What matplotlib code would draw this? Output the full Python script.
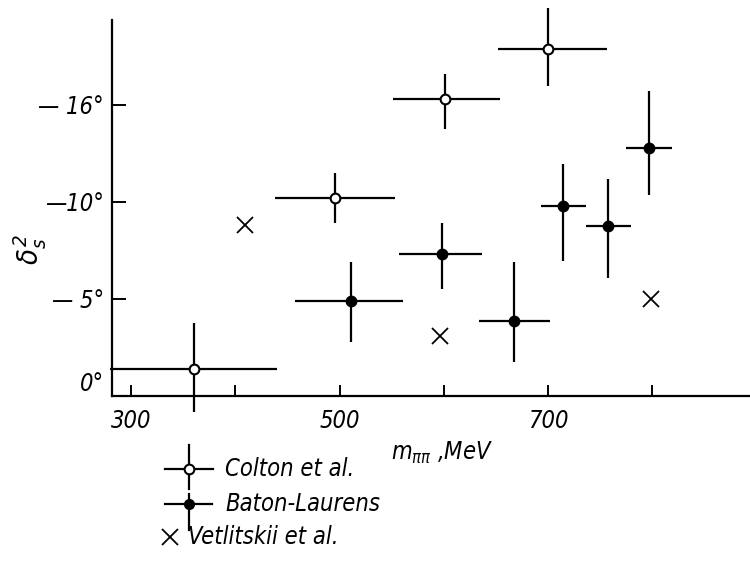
import matplotlib
matplotlib.use('Agg')
import matplotlib.pyplot as plt

# --- Data (delta_s^2 in degrees, m_pipi in MeV) ---
colton_x = [360, 496, 601, 700]
colton_y = [1.4, 10.2, 15.3, 17.9]
colton_xerr_lo = [80, 58, 50, 48]
colton_xerr_hi = [80, 57, 53, 56]
colton_yerr_lo = [2.2, 1.3, 1.55, 1.95]
colton_yerr_hi = [2.35, 1.3, 1.3, 2.1]

baton_x = [511, 598, 667, 714, 757, 797]
baton_y = [4.9, 7.3, 3.85, 9.8, 8.75, 12.8]
baton_xerr_lo = [54, 41, 33, 21, 21, 22]
baton_xerr_hi = [50, 39, 35, 22, 22, 22]
baton_yerr_lo = [2.1, 1.8, 2.1, 2.85, 2.65, 2.45]
baton_yerr_hi = [2.0, 1.6, 3.05, 2.15, 2.45, 2.9]

vet_x = [409, 596, 799]
vet_y = [8.8, 3.1, 5.0]

x_ticks = [300, 400, 500, 600, 700, 800]
x_tick_labels = ['300', '', '500', '', '700', '']
y_ticks = [0, 5, 10, 15]
y_tick_labels = ['0°', '— 5°', '—10°', '— 16°']

legend_labels = ['Colton et al.', 'Baton-Laurens', 'Vetlitskii et al.']

plt.rcParams['font.family'] = ['DejaVu Sans']
plt.rcParams['font.style'] = 'italic'
plt.rcParams['font.stretch'] = 'condensed'
plt.rcParams['mathtext.fontset'] = 'custom'
plt.rcParams['mathtext.it'] = 'DejaVu Sans:italic'
plt.rcParams['mathtext.rm'] = 'DejaVu Sans:italic'

fig = plt.figure(figsize=(7.5, 5.69), dpi=100)
ax = fig.add_axes([112 / 750, 1 - 396 / 569, 638 / 750, 396 / 569])

ebar_style = dict(fmt='o', color='black', elinewidth=1.6, capsize=0,
                  markersize=7, markeredgewidth=1.5, markeredgecolor='black')

c = ax.errorbar(colton_x, colton_y,
                xerr=[colton_xerr_lo, colton_xerr_hi],
                yerr=[colton_yerr_lo, colton_yerr_hi],
                markerfacecolor='white', **ebar_style)
b = ax.errorbar(baton_x, baton_y,
                xerr=[baton_xerr_lo, baton_xerr_hi],
                yerr=[baton_yerr_lo, baton_yerr_hi],
                markerfacecolor='black', **ebar_style)
for cont in (c, b):
    for art in cont.lines[2]:
        art.set_clip_on(False)
    cont.lines[0].set_clip_on(False)
    cont.lines[0].set_zorder(5)

ax.plot(vet_x, vet_y, 'x', color='black', markersize=12, markeredgewidth=1.3,
        clip_on=False)

# --- Axes styling ---
ax.set_xlim(281.8, 893.5)
ax.set_ylim(0, 20.4)
ax.spines['top'].set_visible(False)
ax.spines['right'].set_visible(False)
ax.spines['left'].set_bounds(0, 19.35)
for s in ('left', 'bottom'):
    ax.spines[s].set_linewidth(1.6)

ax.set_xticks(x_ticks)
ax.set_xticklabels(x_tick_labels)
ax.set_yticks(y_ticks)
ax.set_yticklabels(y_tick_labels)
ax.tick_params(axis='x', direction='in', length=8, width=1.4, labelsize=17, pad=9)
ax.tick_params(axis='y', direction='in', length=10, width=1.4, labelsize=17, pad=6)
ax.get_yticklabels()[0].set_va('bottom')

fig.text(30 / 750, 1 - 250 / 569, r'$\delta_s^2$', rotation=90, fontsize=21,
         ha='center', va='center')
fig.text(442 / 750, 1 - 453 / 569, r'$m_{\pi\pi}$ ,MeV', fontsize=17,
         ha='center', va='center')

# --- Hand-made legend below the plot (pixel coords) ---
lax = fig.add_axes([0, 0, 1, 1], zorder=-1)
lax.set_xlim(0, 750)
lax.set_ylim(569, 0)
lax.axis('off')
lax.plot([165, 213], [469, 469], color='black', lw=1.6)
lax.plot([189, 189], [445, 489], color='black', lw=1.6)
lax.plot([189], [469], 'o', color='black', markerfacecolor='white',
         markersize=7, markeredgewidth=1.5)
lax.plot([165, 212], [504, 504], color='black', lw=1.6)
lax.plot([189, 189], [494, 530], color='black', lw=1.6)
lax.plot([189], [504], 'o', color='black', markersize=7)
lax.plot([170], [537], 'x', color='black', markersize=12, markeredgewidth=1.3)
lax.text(225, 469, legend_labels[0], fontsize=17, va='center')
lax.text(225, 504, legend_labels[1], fontsize=17, va='center')
lax.text(188, 537, legend_labels[2], fontsize=17, va='center')

fig.savefig('out.png', dpi=100)
